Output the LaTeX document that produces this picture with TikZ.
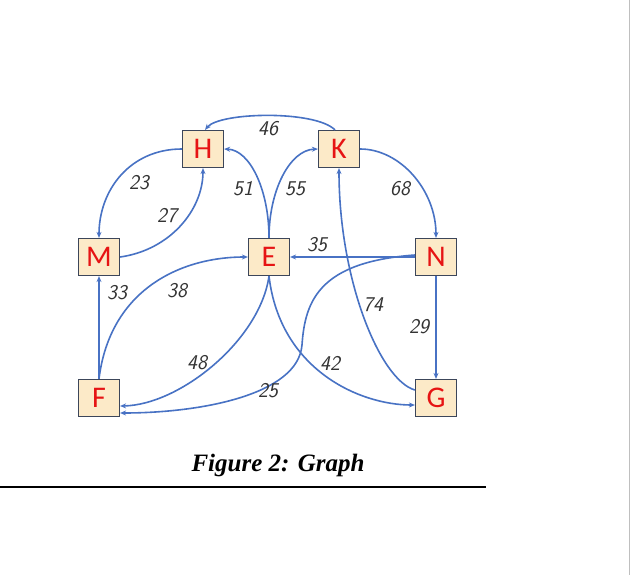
\documentclass[tikz,border=0pt]{standalone}
\usepackage{fontspec}
\setmainfont{Liberation Serif}
\newfontfamily\boxfont{Carlito}
\usetikzlibrary{arrows.meta}
\definecolor{edgeblue}{RGB}{72,114,196}
\definecolor{boxfill}{RGB}{252,234,200}
\definecolor{boxline}{RGB}{60,70,90}
\definecolor{lettered}{RGB}{230,20,20}
\tikzset{
  vert/.style={draw=boxline,line width=1.2pt,fill=boxfill,minimum width=41pt,minimum height=37pt,inner sep=0pt,font=\boxfont\fontsize{30}{30}\selectfont,text=lettered},
  edge/.style={draw=edgeblue,line width=1.6pt,-{Stealth[length=6pt,width=5pt]}},
  wt/.style={font=\sffamily\itshape\fontsize{21}{21}\selectfont,text=black!80,inner sep=0pt}
}
\begin{document}
\begin{tikzpicture}[x=1pt,y=-1pt]
\useasboundingbox (0,0) rectangle (640,575);
\fill[white] (0,0) rectangle (640,575);
\draw[black!25,line width=1pt] (629,0) -- (629,575);
\node[vert] (H) at (203,149) {H};
\node[vert] (K) at (339,149) {K};
\node[vert] (M) at (99,257) {M};
\node[vert] (E) at (269,257) {E};
\node[vert] (N) at (436,257) {N};
\node[vert] (F) at (99,398) {F};
\node[vert] (G) at (436,398) {G};
\draw[edge] ([xshift=-4pt]K.north) .. controls (315,110) and (220,112) .. ([xshift=2pt]H.north);
\draw[edge] (H.west) .. controls (130,149) and (99,190) .. (M.north);
\draw[edge] (M.east) .. controls (170,250) and (203,210) .. (H.south);
\draw[edge] (E.north) .. controls (269,190) and (250,150) .. (H.east);
\draw[edge] (E.north) .. controls (269,190) and (290,150) .. (K.west);
\draw[edge] (K.east) .. controls (400,149) and (436,190) .. (N.north);
\draw[edge] (N.west) -- (E.east);
\draw[edge] (N.south) -- (G.north);
\draw[edge] ([yshift=8pt]G.west) .. controls (380,380) and (339,280) .. (K.south);
\draw[edge] (F.north) -- (M.south);
\draw[edge] (F.north) .. controls (110,290) and (180,257) .. (E.west);
\draw[edge] (E.south) .. controls (260,340) and (180,405) .. ([yshift=-8pt]F.east);
\draw[edge] (E.south) .. controls (280,370) and (360,405) .. ([yshift=-7pt]G.west);
\draw[edge] ([yshift=2pt]N.west) .. controls (320,262) and (305,300) .. (302,345) .. controls (298,395) and (200,413) .. ([yshift=-15pt]F.east);
\node[wt] (w46) at (268,129) {46};
\node[wt] (w23) at (139,183) {23};
\node[wt] (w27) at (167,216) {27};
\node[wt] (w51) at (243,189) {51};
\node[wt] (w55) at (295,189) {55};
\node[wt] (w68) at (400,189) {68};
\node[wt] (w35) at (317,245) {35};
\node[wt] (w33) at (117,293) {33};
\node[wt] (w38) at (177,291) {38};
\node[wt] (w74) at (373,305) {74};
\node[wt] (w29) at (419,327) {29};
\node[wt] (w48) at (197,363) {48};
\node[wt] (w42) at (330,363) {42};
\node[wt] (w25) at (268,391) {25};
\node[font=\bfseries\itshape\fontsize{25}{25}\selectfont] (cap) at (278,465) {Figure 2: Graph};
\draw[black,line width=2pt] (0,487) -- (486,487);
\end{tikzpicture}
\end{document}
